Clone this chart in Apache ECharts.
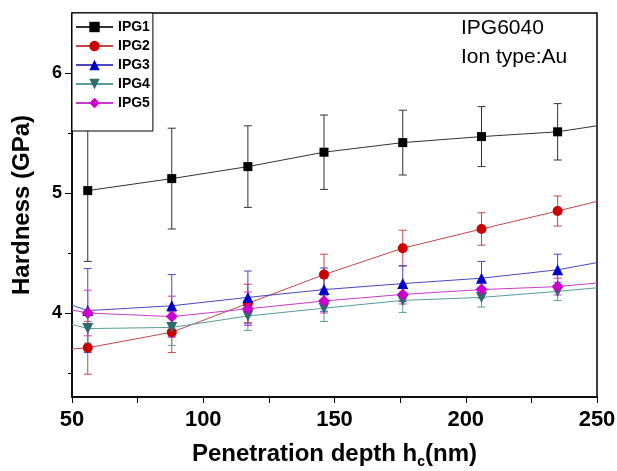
<!DOCTYPE html>
<html>
<head>
<meta charset="utf-8">
<script src="https://cdn.jsdelivr.net/npm/echarts@6/dist/echarts.min.js"></script>
<style>
  html, body { margin: 0; padding: 0; background: #fff; }
  #chart { width: 617px; height: 471px; }
</style>
</head>
<body>
<div id="chart"></div>
<script>
// indentation depth (nm) of the measured points
const depths = [56, 88, 117, 146, 176, 206, 235];

// hardness (GPa) and error bar half-heights
const ipg1 = [5.02, 5.12, 5.22, 5.34, 5.42, 5.47, 5.51];
const ipg1Err = [0.59, 0.42, 0.34, 0.31, 0.27, 0.25, 0.235];
const ipg2 = [3.71, 3.84, 4.08, 4.32, 4.54, 4.70, 4.85];
const ipg2Err = [0.22, 0.17, 0.16, 0.17, 0.15, 0.135, 0.125];
const ipg3 = [4.02, 4.06, 4.13, 4.195, 4.245, 4.29, 4.36];
const ipg3Err = [0.35, 0.26, 0.22, 0.18, 0.15, 0.14, 0.13];
const ipg4 = [3.87, 3.88, 3.975, 4.04, 4.105, 4.13, 4.18];
const ipg4Err = [0.12, 0.15, 0.12, 0.11, 0.10, 0.08, 0.075];
const ipg5 = [4.00, 3.97, 4.035, 4.10, 4.155, 4.195, 4.22];
const ipg5Err = [0.19, 0.17, 0.14, 0.10, 0.08, 0.07, 0.07];

// where the fitted curves meet the left (50 nm) and right (250 nm) edges
const lineStart = [null, 3.70, 4.065, 3.905, 4.025];
const lineEnd = [5.56, 4.93, 4.42, 4.21, 4.25];

const xTicks = [50, 100, 150, 200, 250];
const yTicks = [4, 5, 6];
const yMinorTicks = [3.5, 4.5, 5.5];

const FONT = 'Liberation Sans, Arial, sans-serif';

const groups = [
    { name: 'IPG1', values: ipg1, errs: ipg1Err, marker: '#000000', line: '#333333', symbol: 'rect', size: 9, rotate: 0 },
    { name: 'IPG2', values: ipg2, errs: ipg2Err, marker: '#cc0000', line: '#c04848', symbol: 'circle', size: 10, rotate: 0 },
    { name: 'IPG3', values: ipg3, errs: ipg3Err, marker: '#0000cc', line: '#4848c0', symbol: 'triangle', size: 11, rotate: 0 },
    { name: 'IPG4', values: ipg4, errs: ipg4Err, marker: '#2e6b6b', line: '#5a9c9c', symbol: 'triangle', size: 11, rotate: 180 },
    { name: 'IPG5', values: ipg5, errs: ipg5Err, marker: '#cc00cc', line: '#c83cc8', symbol: 'diamond', size: 12, rotate: 0 }
];

const chart = echarts.init(document.getElementById('chart'), null, { renderer: 'canvas' });

const series = [];

// error bars first so the markers sit on top
groups.forEach(g => {
    series.push({
        name: g.name + ' err',
        type: 'custom',
        z: 1,
        silent: true,
        data: depths.map((x, i) => [x, g.values[i], g.errs[i]]),
        renderItem: (params, api) => {
            const x = api.value(0), y = api.value(1), e = api.value(2);
            const top = api.coord([x, y + e]);
            const bot = api.coord([x, y - e]);
            const cap = 4;
            const style = { stroke: g.line, lineWidth: 1 };
            return {
                type: 'group',
                children: [
                    { type: 'line', shape: { x1: top[0], y1: top[1], x2: bot[0], y2: bot[1] }, style: style },
                    { type: 'line', shape: { x1: top[0] - cap, y1: top[1], x2: top[0] + cap, y2: top[1] }, style: style },
                    { type: 'line', shape: { x1: bot[0] - cap, y1: bot[1], x2: bot[0] + cap, y2: bot[1] }, style: style }
                ]
            };
        }
    });
});

groups.forEach((g, k) => {
    const data = [];
    if (lineStart[k] !== null) data.push({ value: [50, lineStart[k]], symbol: 'none' });
    depths.forEach((x, i) => data.push([x, g.values[i]]));
    data.push({ value: [250, lineEnd[k]], symbol: 'none' });
    series.push({
        name: g.name,
        type: 'line',
        z: 3,
        data: data,
        smooth: false,
        symbol: g.symbol,
        symbolSize: g.size,
        symbolRotate: g.rotate,
        showAllSymbol: true,
        lineStyle: { color: g.line, width: 1 },
        itemStyle: { color: g.marker, borderWidth: 0 },
        emphasis: { disabled: true }
    });
});

const option = {
    animation: false,
    backgroundColor: '#fff',
    grid: {
        left: 72, right: 20, top: 13, bottom: 74,
        outerBoundsMode: 'none',
        show: true, borderColor: '#000', borderWidth: 1.5
    },
    legend: {
        data: groups.map(g => g.name),
        orient: 'vertical',
        left: 72, top: 13,
        padding: [7, 3, 21, 3],
        itemGap: 5,
        itemWidth: 37,
        itemHeight: 13,
        backgroundColor: '#fff',
        borderColor: '#000',
        borderWidth: 1,
        textStyle: { fontFamily: FONT, fontWeight: 'bold', fontSize: 14, lineHeight: 14, color: '#000' }
    },
    xAxis: {
        type: 'value',
        min: 50, max: 250, interval: 25,
        name: 'Penetration depth h{sub|c}(nm)',
        nameLocation: 'middle',
        nameGap: 42,
        nameTextStyle: {
            fontFamily: FONT, fontWeight: 'bold', fontSize: 24, color: '#000',
            rich: { sub: { fontFamily: FONT, fontWeight: 'bold', fontSize: 14, verticalAlign: 'bottom', padding: [16, 0, 0, 0] } }
        },
        axisLine: { show: true, lineStyle: { color: '#000', width: 1.5 } },
        axisTick: { show: true, inside: false, length: 6, lineStyle: { color: '#000', width: 1 } },
        axisLabel: {
            margin: 12,
            fontFamily: FONT, fontWeight: 'bold', fontSize: 22, color: '#000',
            formatter: v => (xTicks.indexOf(v) >= 0 ? String(v) : '')
        },
        splitLine: { show: false }
    },
    yAxis: [
        {
            type: 'value',
            min: 3.3, max: 6.5,
            name: 'Hardness (GPa)',
            nameLocation: 'middle',
            nameGap: 38,
            nameTextStyle: { fontFamily: FONT, fontWeight: 'bold', fontSize: 24, color: '#000' },
            axisLine: { show: true, lineStyle: { color: '#000', width: 1.5 } },
            axisTick: { show: true, inside: false, length: 7, customValues: yTicks, lineStyle: { color: '#000', width: 1 } },
            axisLabel: {
                margin: 10, customValues: yTicks,
                fontFamily: FONT, fontWeight: 'bold', fontSize: 18, color: '#000'
            },
            splitLine: { show: false }
        },
        {
            type: 'value',
            min: 3.3, max: 6.5,
            position: 'left',
            axisLine: { show: false },
            axisTick: { show: true, inside: false, length: 4, customValues: yMinorTicks, lineStyle: { color: '#000', width: 1 } },
            axisLabel: { show: false },
            splitLine: { show: false }
        }
    ],
    graphic: [
        { type: 'text', left: 461, top: 18, style: { text: 'IPG6040', font: '21px ' + FONT, fill: '#000' } },
        { type: 'text', left: 461, top: 47, style: { text: 'Ion type:Au', font: '21px ' + FONT, fill: '#000' } }
    ],
    series: series
};

chart.setOption(option);
window.addEventListener('resize', () => chart.resize());
</script>
</body>
</html>
